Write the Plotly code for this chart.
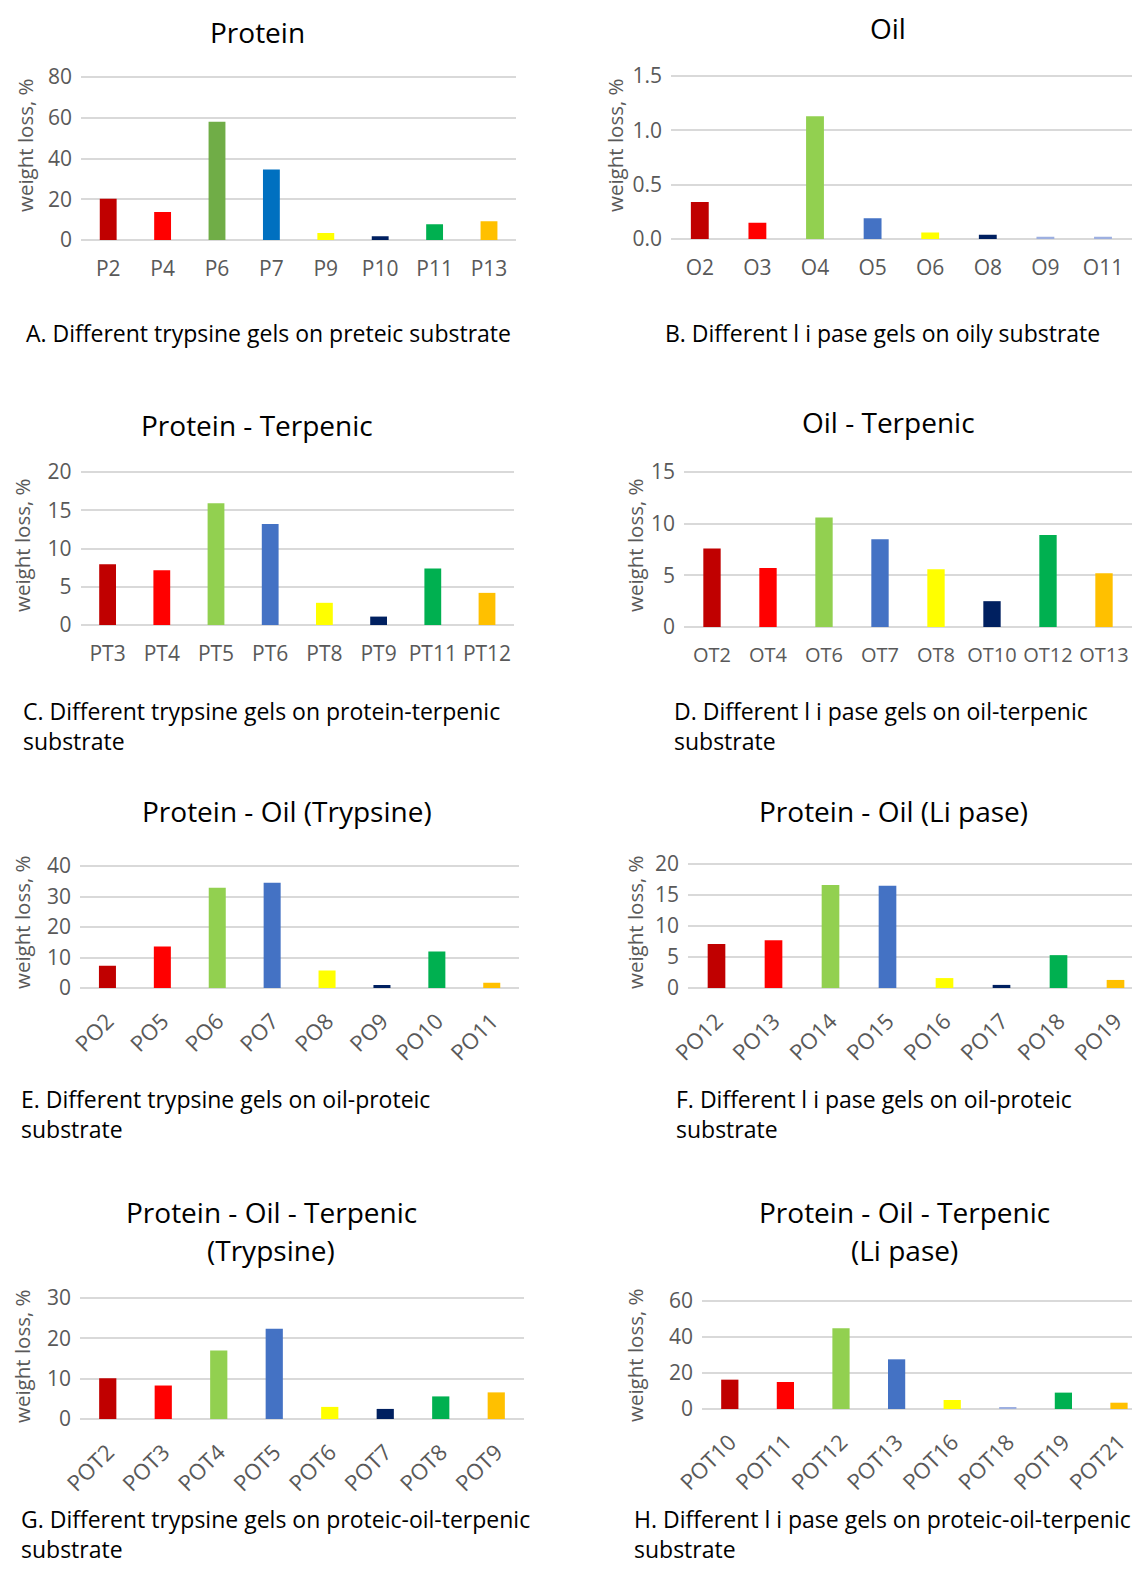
import plotly.graph_objects as go

# page is 1140x1575; the html body adds an 8px margin, so the figure is drawn
# smaller and all target pixel positions are shifted by that offset.
PAGE_W, PAGE_H = 1140, 1575
OFF = 8
W, H = PAGE_W - 2 * OFF, PAGE_H - 2 * OFF
RIGHT = OFF + W

# ---------------- data ----------------
cats_a = ["P2", "P4", "P6", "P7", "P9", "P10", "P11", "P13"]
vals_a = [20.2, 13.8, 58.0, 34.6, 3.4, 1.8, 7.7, 9.2]

cats_b = ["O2", "O3", "O4", "O5", "O6", "O8", "O9", "O11"]
vals_b = [0.34, 0.15, 1.13, 0.19, 0.06, 0.04, 0.02, 0.02]

cats_c = ["PT3", "PT4", "PT5", "PT6", "PT8", "PT9", "PT11", "PT12"]
vals_c = [7.95, 7.15, 15.9, 13.2, 2.9, 1.1, 7.4, 4.2]

cats_d = ["OT2", "OT4", "OT6", "OT7", "OT8", "OT10", "OT12", "OT13"]
vals_d = [7.6, 5.7, 10.6, 8.5, 5.6, 2.5, 8.9, 5.2]

cats_e = ["PO2", "PO5", "PO6", "PO7", "PO8", "PO9", "PO10", "PO11"]
vals_e = [7.3, 13.6, 32.9, 34.5, 5.7, 1.0, 12.0, 1.7]

cats_f = ["PO12", "PO13", "PO14", "PO15", "PO16", "PO17", "PO18", "PO19"]
vals_f = [7.1, 7.7, 16.6, 16.5, 1.6, 0.5, 5.3, 1.3]

cats_g = ["POT2", "POT3", "POT4", "POT5", "POT6", "POT7", "POT8", "POT9"]
vals_g = [10.1, 8.3, 17.0, 22.4, 3.0, 2.5, 5.6, 6.6]

cats_h = ["POT10", "POT11", "POT12", "POT13", "POT16", "POT18", "POT19", "POT21"]
vals_h = [16.3, 15.0, 44.8, 27.6, 5.0, 1.1, 9.1, 3.5]

titles = [
    ["Protein"], ["Oil"], ["Protein - Terpenic"], ["Oil - Terpenic"],
    ["Protein - Oil (Trypsine)"], ["Protein - Oil (Li pase)"],
    ["Protein - Oil - Terpenic", "(Trypsine)"], ["Protein - Oil - Terpenic", "(Li pase)"],
]
captions = [
    ["A. Different trypsine gels on preteic substrate"],
    ["B. Different l i pase gels on oily substrate"],
    ["C. Different trypsine gels on protein-terpenic", "substrate"],
    ["D. Different l i pase gels on oil-terpenic", "substrate"],
    ["E. Different trypsine gels on oil-proteic", "substrate"],
    ["F. Different l i pase gels on oil-proteic", "substrate"],
    ["G. Different trypsine gels on proteic-oil-terpenic", "substrate"],
    ["H. Different l i pase gels on proteic-oil-terpenic", "substrate"],
]
y_title = "weight loss, %"

# ---------------- styles ----------------
DRED, RED, OLIVE, LGREEN = "#C00000", "#FF0000", "#70AD47", "#92D050"
BLUE0, BLUE, YEL, NAVY = "#0070C0", "#4472C4", "#FFFF00", "#002060"
GREEN, ORANGE, LBLUE = "#00B050", "#FFC000", "#9DAFE0"

std_colors = [DRED, RED, LGREEN, BLUE, YEL, NAVY, GREEN, ORANGE]
colors = [
    [DRED, RED, OLIVE, BLUE0, YEL, NAVY, GREEN, ORANGE],
    [DRED, RED, LGREEN, BLUE, YEL, NAVY, LBLUE, LBLUE],
    std_colors, std_colors, std_colors, std_colors, std_colors,
    [DRED, RED, LGREEN, BLUE, YEL, LBLUE, GREEN, ORANGE],
]

FONT = "Open Sans"
GRID = "#D9D9D9"
TICK = "#595959"

# layout geometry (target page pixels); cap = (y, anchor) of caption block
geo = [
    dict(x0=81, step=54.4, ytop=77, yzero=240, ymax=80, dtick=20, fmt="", ang=0, xfs=21,
         tx=257, ty=[32], capx=25, cap=(333, "middle"), ytx=25, yty=145),
    dict(x0=671, step=57.6, ytop=76, yzero=239, ymax=1.5, dtick=0.5, fmt=".1f", ang=0, xfs=21,
         tx=888, ty=[28], capx=664, cap=(333, "middle"), ytx=615, yty=145),
    dict(x0=80.5, step=54.2, ytop=472, yzero=625, ymax=20, dtick=5, fmt="", ang=0, xfs=21,
         tx=257, ty=[425], capx=22, cap=(726, "middle"), ytx=22, yty=545),
    dict(x0=684, step=56.0, ytop=472, yzero=627, ymax=15, dtick=5, fmt="", ang=0, xfs=20,
         tx=888, ty=[422], capx=673, cap=(726, "middle"), ytx=635, yty=545),
    dict(x0=80, step=54.9, ytop=866, yzero=988, ymax=40, dtick=10, fmt="", ang=-45, xfs=22,
         tx=287, ty=[811], capx=20, cap=(1114, "middle"), ytx=22, yty=922),
    dict(x0=688, step=57.0, ytop=864, yzero=988, ymax=20, dtick=5, fmt="", ang=-45, xfs=22,
         tx=893, ty=[811], capx=675, cap=(1114, "middle"), ytx=635, yty=922),
    dict(x0=80, step=55.5, ytop=1298, yzero=1419, ymax=30, dtick=10, fmt="", ang=-45, xfs=22,
         tx=271, ty=[1212, 1250], capx=20, cap=(1566, "bottom"), ytx=22, yty=1356),
    dict(x0=702, step=55.6, ytop=1301, yzero=1409, ymax=60, dtick=20, fmt="", ang=-45, xfs=22,
         tx=904, ty=[1212, 1250], capx=633, cap=(1566, "bottom"), ytx=635, yty=1355),
]

cats_all = [cats_a, cats_b, cats_c, cats_d, cats_e, cats_f, cats_g, cats_h]
vals_all = [vals_a, vals_b, vals_c, vals_d, vals_e, vals_f, vals_g, vals_h]


def px(x):
    return (x - OFF) / W


def py(y):
    return 1 - (y - OFF) / H


fig = go.Figure()
layout = {}
annotations = []
PAD = 3

for i in range(8):
    g = geo[i]
    n = i + 1
    xa = "x" if n == 1 else f"x{n}"
    ya = "y" if n == 1 else f"y{n}"
    fig.add_trace(go.Bar(
        x=cats_all[i], y=vals_all[i], marker=dict(color=colors[i], line=dict(width=0)),
        width=0.31, xaxis=xa, yaxis=ya, showlegend=False, hoverinfo="x+y",
    ))
    x1 = min(g["x0"] + 8 * g["step"], RIGHT)
    xr = [-0.5, -0.5 + (x1 - g["x0"]) / g["step"]]
    k = (g["yzero"] - g["ytop"]) / g["ymax"]
    yr = [-PAD / k, g["ymax"] + PAD / k]
    xkey = "xaxis" if n == 1 else f"xaxis{n}"
    ykey = "yaxis" if n == 1 else f"yaxis{n}"
    rot = g["ang"] != 0
    layout[xkey] = dict(
        domain=[px(g["x0"]), min(px(x1), 1.0)], range=xr, anchor=ya, type="category",
        showgrid=False, zeroline=False, showline=False, ticks="", automargin=False,
        tickangle=g["ang"], tickfont=dict(family=FONT, size=g["xfs"], color=TICK),
        ticklabelstandoff=12 if rot else 11, fixedrange=True,
    )
    layout[ykey] = dict(
        domain=[py(g["yzero"] + PAD), py(g["ytop"] - PAD)], range=yr,
        anchor=xa, dtick=g["dtick"], tick0=0, tickformat=g["fmt"], automargin=False,
        showgrid=True, gridcolor=GRID, gridwidth=2,
        zeroline=True, zerolinecolor=GRID, zerolinewidth=2, showline=False, ticks="",
        tickfont=dict(family=FONT, size=21, color=TICK), ticklabelstandoff=8,
        fixedrange=True,
    )
    for t, ty in zip(titles[i], g["ty"]):
        annotations.append(dict(
            text=t, x=px(g["tx"]), y=py(ty), xref="paper", yref="paper",
            xanchor="center", yanchor="middle", showarrow=False,
            font=dict(family=FONT, size=28, color="#000000"),
        ))
    cap_y, cap_anchor = g["cap"]
    annotations.append(dict(
        text="<br>".join(captions[i]), x=px(g["capx"]), y=py(cap_y),
        xref="paper", yref="paper", xanchor="left", yanchor=cap_anchor, align="left",
        showarrow=False, borderpad=0,
        font=dict(family=FONT, size=23, color="#000000"),
    ))
    annotations.append(dict(
        text=y_title, x=px(g["ytx"]), y=py(g["yty"]), xref="paper", yref="paper",
        xanchor="center", yanchor="middle", showarrow=False, textangle=-90,
        font=dict(family=FONT, size=20.5, color=TICK),
    ))

fig.update_layout(
    template="none",
    width=W, height=H, margin=dict(l=0, r=0, t=0, b=0, autoexpand=False),
    paper_bgcolor="white", plot_bgcolor="white",
    annotations=annotations, **layout,
)

fig.write_html("out.html")
